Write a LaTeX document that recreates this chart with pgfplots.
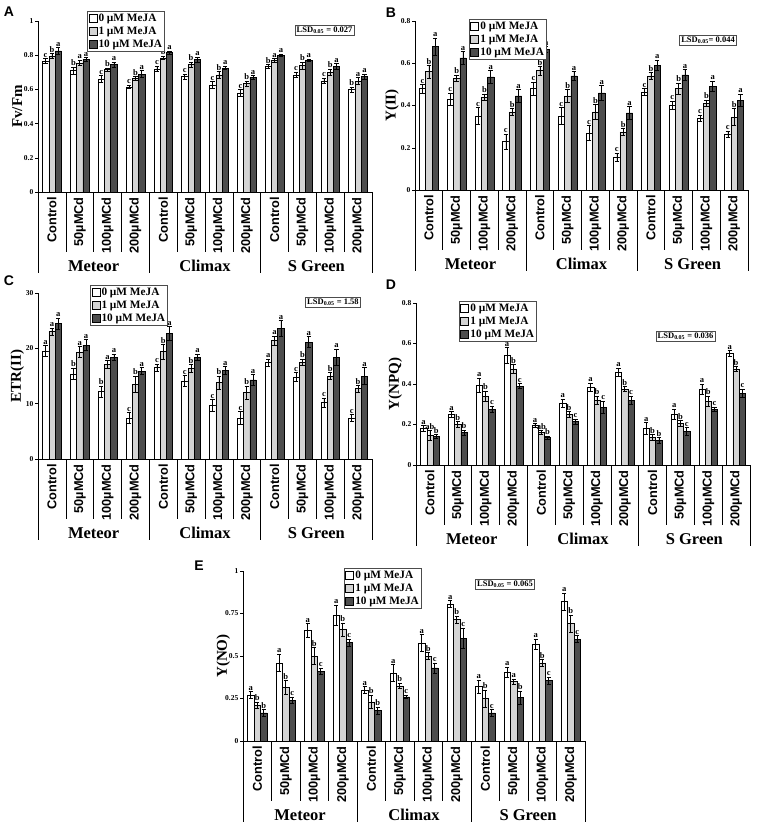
\documentclass[border=0pt]{standalone}
\usepackage{fontspec}
\setmainfont{Liberation Serif}
\setsansfont{Liberation Sans}
\usepackage{pgfplots}
\usepackage{pgfplotstable}
\pgfplotsset{compat=1.18}

\definecolor{lgray}{HTML}{D4D4D4}
\definecolor{dgray}{HTML}{4D4D4D}

\newcommand\xtfont{\fontsize{12.8}{13}\selectfont\sffamily\bfseries}
\newcommand\ytfont{\fontsize{7.5}{8}\selectfont\bfseries}
\newcommand\ylfont{\fontsize{15}{16}\selectfont\bfseries}
\newcommand\grpfont{\fontsize{16.5}{18}\selectfont\bfseries}
\newcommand\legfont{\fontsize{11.3}{12}\selectfont\bfseries}
\newcommand\letfont{\fontsize{8.5}{9}\selectfont\bfseries}
\newcommand\lsdfont{\fontsize{8.5}{9}\selectfont\bfseries}
\newcommand\panfont{\fontsize{14}{15}\selectfont\sffamily\bfseries}

% x = category (Meteor 0-3, Climax 4-7, S Green 8-11); v/e/l = mean, error, letter for 0, 1, 10 uM MeJA
\pgfplotstableread{
x v0 e0 l0 v1 e1 l1 v2 e2 l2
0 0.765 0.015 c 0.795 0.015 b 0.825 0.020 a
1 0.710 0.020 b 0.755 0.015 a 0.775 0.010 a
2 0.660 0.020 c 0.715 0.010 b 0.745 0.015 a
3 0.615 0.010 c 0.665 0.010 b 0.690 0.020 a
4 0.720 0.015 c 0.785 0.010 b 0.815 0.010 a
5 0.675 0.015 c 0.745 0.015 b 0.775 0.015 a
6 0.625 0.020 c 0.685 0.020 b 0.725 0.010 a
7 0.580 0.020 c 0.635 0.015 b 0.670 0.010 a
8 0.735 0.010 b 0.770 0.010 a 0.800 0.008 a
9 0.685 0.015 c 0.740 0.020 b 0.770 0.008 a
10 0.650 0.015 c 0.700 0.020 b 0.735 0.015 a
11 0.600 0.015 b 0.650 0.020 a 0.675 0.015 a
}\tabA

\pgfplotstableread{
x v0 e0 l0 v1 e1 l1 v2 e2 l2
0 0.480 0.020 c 0.560 0.030 b 0.680 0.040 a
1 0.430 0.030 c 0.530 0.015 b 0.625 0.030 a
2 0.350 0.040 c 0.440 0.015 b 0.535 0.030 a
3 0.230 0.035 c 0.370 0.015 b 0.445 0.030 a
4 0.480 0.030 c 0.565 0.020 b 0.665 0.015 a
5 0.350 0.040 c 0.445 0.030 b 0.540 0.020 a
6 0.270 0.035 c 0.370 0.035 b 0.460 0.035 a
7 0.155 0.020 c 0.275 0.015 b 0.365 0.030 a
8 0.465 0.015 c 0.540 0.015 b 0.590 0.025 a
9 0.400 0.020 c 0.480 0.025 b 0.545 0.025 a
10 0.340 0.015 c 0.410 0.015 b 0.490 0.025 a
11 0.265 0.015 c 0.345 0.040 b 0.425 0.030 a
}\tabB

\pgfplotstableread{
x v0 e0 l0 v1 e1 l1 v2 e2 l2
0 19.5 1.0 a 23.0 0.7 a 24.5 1.0 a
1 15.4 1.0 b 19.3 1.0 a 20.6 1.0 a
2 12.2 1.0 b 17.1 0.7 a 18.4 0.6 a
3 7.4 1.0 c 13.5 1.5 b 15.9 0.6 a
4 16.5 0.7 c 19.4 1.3 b 22.7 1.2 a
5 14.1 1.0 c 16.4 0.7 b 18.4 0.6 a
6 9.7 1.0 c 13.8 1.2 b 16.0 0.7 a
7 7.4 1.2 c 12.0 1.2 b 14.3 1.0 a
8 17.4 0.7 a 21.4 0.8 a 23.6 1.4 a
9 14.8 0.8 c 17.5 0.6 b 21.1 1.0 a
10 10.2 0.8 c 15.0 0.6 b 18.4 1.5 a
11 7.4 0.6 c 12.7 0.6 b 15.0 1.5 a
}\tabC

\pgfplotstableread{
x v0 e0 l0 v1 e1 l1 v2 e2 l2
0 0.180 0.015 a 0.145 0.025 ab 0.140 0.010 b
1 0.250 0.015 a 0.200 0.015 b 0.160 0.012 b
2 0.395 0.035 a 0.340 0.025 b 0.275 0.015 c
3 0.540 0.040 a 0.475 0.020 b 0.390 0.012 c
4 0.195 0.010 a 0.160 0.010 ab 0.135 0.008 b
5 0.305 0.020 a 0.250 0.015 b 0.215 0.012 c
6 0.385 0.020 a 0.320 0.020 b 0.285 0.030 c
7 0.460 0.020 a 0.375 0.012 b 0.320 0.020 c
8 0.180 0.030 a 0.135 0.015 b 0.120 0.015 b
9 0.250 0.025 a 0.205 0.015 b 0.165 0.020 c
10 0.375 0.025 a 0.315 0.025 b 0.275 0.012 c
11 0.550 0.015 a 0.475 0.012 b 0.355 0.020 c
}\tabD

\pgfplotstableread{
x v0 e0 l0 v1 e1 l1 v2 e2 l2
0 0.270 0.020 a 0.210 0.020 b 0.165 0.020 b
1 0.460 0.050 a 0.315 0.040 b 0.240 0.020 c
2 0.650 0.040 a 0.500 0.050 b 0.410 0.020 c
3 0.740 0.060 a 0.655 0.040 b 0.580 0.020 c
4 0.300 0.020 a 0.230 0.040 b 0.180 0.020 b
5 0.400 0.050 a 0.325 0.015 b 0.260 0.010 c
6 0.575 0.050 a 0.500 0.020 b 0.430 0.030 c
7 0.805 0.020 a 0.715 0.020 b 0.605 0.060 c
8 0.320 0.040 a 0.250 0.050 b 0.165 0.020 c
9 0.405 0.030 a 0.350 0.015 a 0.255 0.040 b
10 0.570 0.030 a 0.460 0.020 b 0.355 0.020 c
11 0.820 0.050 a 0.690 0.050 b 0.600 0.020 c
}\tabE

\pgfplotsset{
  panel/.style={
    scale only axis, anchor=south west,
    ybar=0pt, bar width=6.3pt,
    xmin=-0.5, xmax=11.5, ymin=0,
    axis x line*=bottom, axis y line*=left,
    axis line style={black, line width=0.7pt},
    xtick={0,...,11},
    xticklabels={Control,50µMCd,100µMCd,200µMCd,Control,50µMCd,100µMCd,200µMCd,Control,50µMCd,100µMCd,200µMCd},
    xticklabel style={rotate=90, anchor=east, font=\xtfont, inner sep=2pt},
    major x tick style={draw=none},
    tick align=outside, major tick length=3pt,
    ytick style={black, line width=0.5pt},
    yticklabel style={font=\ytfont, inner sep=1.5pt},
    /pgf/number format/assume math mode=true,
    ylabel style={font=\ylfont, at={(axis description cs:-0.062,0.5)}, anchor=center},
    clip=false,
    point meta=explicit symbolic,
    nodes near coords={\pgfplotspointmeta},
    every node near coord/.append style={font=\letfont, text=black, anchor=south,
      inner sep=1pt, shift={(axis direction cs:0,\myerr)}},
    legend image code/.code={\draw[##1, line width=0.5pt] (0pt,-3.8pt) rectangle (8pt,4.2pt);},
    legend style={anchor=north west, font=\legfont, draw=black!70, line width=0.8pt,
      inner sep=1pt, row sep=1pt, cells={anchor=west},
      nodes={inner sep=1.5pt}},
  },
}
\tikzset{lsd/.style={draw=black!70, line width=0.7pt, font=\lsdfont, inner sep=1.5pt}}

\newcommand{\series}[3]{%
  \addplot[fill=#2, draw=black, line width=0.5pt,
    visualization depends on={\thisrow{e#3}\as\myerr},
    error bars/.cd, y dir=both, y explicit,
    error bar style={line width=0.6pt, black},
    error mark options={rotate=90, mark size=2.2pt, line width=0.6pt, black}]
    table[x=x, y=v#3, y error=e#3, meta=l#3] {#1};}

\newcommand{\threebars}[1]{%
  \series{#1}{white}{0}
  \series{#1}{lgray}{1}
  \series{#1}{dgray}{2}
  \legend{0 µM MeJA, 1 µM MeJA, 10 µM MeJA}}

\newcommand{\decor}{%
  \pgfplotsinvokeforeach{0.5,1.5,2.5,4.5,5.5,6.5,8.5,9.5,10.5}{%
    \draw[line width=0.6pt] (axis cs:##1,0) -- ++(0pt,-60pt);}%
  \pgfplotsinvokeforeach{-0.5,3.5,7.5,11.5}{%
    \draw[line width=0.6pt] (axis cs:##1,0) -- ++(0pt,-81pt);}%
  \node[font=\grpfont] at (axis cs:1.5,0) [yshift=-74pt] {Meteor};
  \node[font=\grpfont] at (axis cs:5.5,0) [yshift=-74pt] {Climax};
  \node[font=\grpfont] at (axis cs:9.5,0) [yshift=-74pt] {S Green};}

\begin{document}
\begin{tikzpicture}
\useasboundingbox (0pt,0pt) rectangle (767pt,-824pt);

% A
\begin{axis}[panel, at={(38pt,-192pt)}, width=334pt, height=171pt,
  ymax=1, ytick={0,0.2,0.4,0.6,0.8,1}, ylabel={Fv/Fm},
  legend style={at={(0.147,1.058)}}]
\threebars{\tabA}
\decor
\node[lsd] at (rel axis cs:0.858,0.947) {LSD\textsubscript{0.05} = 0.027};
\end{axis}

% B
\begin{axis}[panel, at={(415pt,-190pt)}, width=333pt, height=169pt,
  ymax=0.8, ytick={0,0.2,0.4,0.6,0.8}, ylabel={Y(II)},
  ylabel style={at={(axis description cs:-0.069,0.5)}},
  legend style={at={(0.162,1.01)}}]
\threebars{\tabB}
\decor
\node[lsd] at (rel axis cs:0.88,0.888) {LSD\textsubscript{0.05}= 0.044};
\end{axis}

% C
\begin{axis}[panel, at={(38pt,-459pt)}, width=334pt, height=166pt,
  ymax=30, ytick={0,10,20,30}, ylabel={ETR(II)},
  legend style={at={(0.156,1.048)}}]
\threebars{\tabC}
\decor
\node[lsd] at (rel axis cs:0.883,0.943) {LSD\textsubscript{0.05} = 1.58};
\end{axis}

% D
\begin{axis}[panel, at={(416pt,-465pt)}, width=334pt, height=162pt,
  ymax=0.8, ytick={0,0.2,0.4,0.6,0.8}, ylabel={Y(NPQ)},
  legend style={at={(0.129,1.012)}}]
\threebars{\tabD}
\decor
\node[lsd] at (rel axis cs:0.807,0.796) {LSD\textsubscript{0.05} = 0.036};
\end{axis}

% E
\begin{axis}[panel, at={(243pt,-741pt)}, width=342pt, height=170pt, bar width=6.5pt,
  ymax=1, ytick={0,0.25,0.5,0.75,1}, ylabel={Y(NO)},
  ylabel style={at={(axis description cs:-0.058,0.5)}},
  legend style={at={(0.295,1.018)}}]
\threebars{\tabE}
\decor
\node[lsd] at (rel axis cs:0.766,0.924) {LSD\textsubscript{0.05} = 0.065};
\end{axis}

\node[font=\panfont] at (9pt,-12pt) {A};
\node[font=\panfont] at (391pt,-13pt) {B};
\node[font=\panfont] at (9pt,-281pt) {C};
\node[font=\panfont] at (391pt,-285pt) {D};
\node[font=\panfont] at (199pt,-566pt) {E};
\end{tikzpicture}
\end{document}
